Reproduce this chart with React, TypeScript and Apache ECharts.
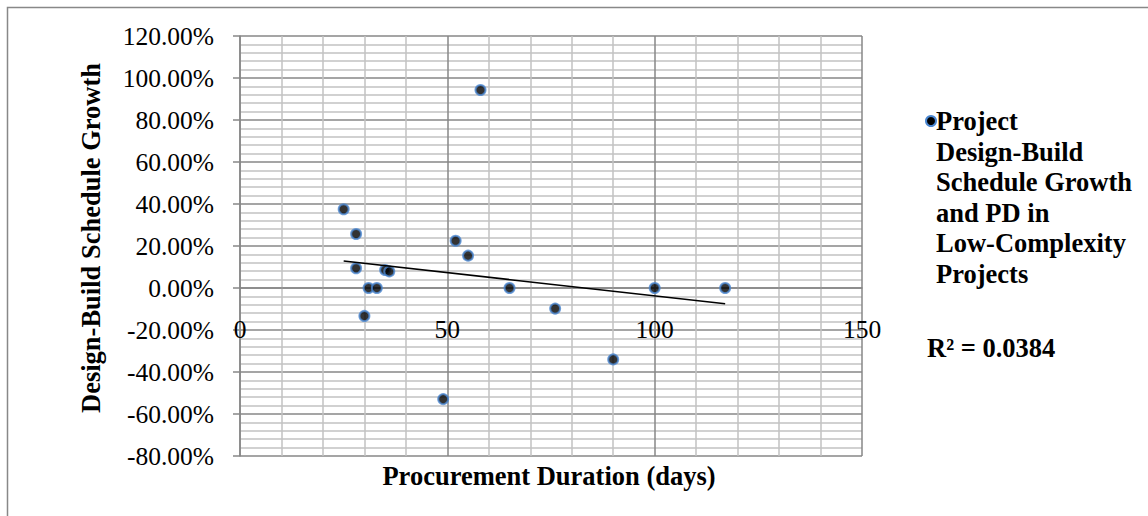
import React, { useEffect, useRef } from "react";
import * as echarts from "echarts";

// Procurement duration (days) per project
const procurementDays = [25, 28, 28, 30, 31, 33, 35, 36, 49, 52, 55, 58, 65, 76, 90, 100, 117];
// Design-build schedule growth (%) per project
const scheduleGrowth = [37.5, 25.7, 9.4, -13.3, 0, 0, 8.6, 7.9, -52.9, 22.5, 15.4, 94.3, 0, -9.8, -34, 0, 0];

const seriesName = "Project Design-Build Schedule Growth and PD in Low-Complexity Projects";
const legendLines = ["Project", "Design-Build", "Schedule Growth", "and PD in", "Low-Complexity", "Projects"];
const rSquaredLabel = "R² = 0.0384";
const xTitle = "Procurement Duration (days)";
const yTitle = "Design-Build Schedule Growth";

const FONT = "'Liberation Serif', 'Times New Roman', serif";

function linearFit(xs: number[], ys: number[]) {
  const n = xs.length;
  const mx = xs.reduce((a, b) => a + b, 0) / n;
  const my = ys.reduce((a, b) => a + b, 0) / n;
  let sxy = 0;
  let sxx = 0;
  for (let i = 0; i < n; i++) {
    sxy += (xs[i] - mx) * (ys[i] - my);
    sxx += (xs[i] - mx) * (xs[i] - mx);
  }
  const slope = sxy / sxx;
  return { slope, intercept: my - slope * mx };
}

export default function App() {
  const ref = useRef<HTMLDivElement>(null);

  useEffect(() => {
    document.body.style.margin = "0";
    if (!ref.current) return;
    const chart = echarts.init(ref.current, undefined, { renderer: "svg" });

    const points = procurementDays.map((x, i) => [x, scheduleGrowth[i]]);
    const { slope, intercept } = linearFit(procurementDays, scheduleGrowth);
    const xMin = Math.min(...procurementDays);
    const xMax = Math.max(...procurementDays);
    const trend = [
      [xMin, intercept + slope * xMin],
      [xMax, intercept + slope * xMax],
    ];

    const majorLine = { color: "#878787", width: 1.5 };
    const minorLine = { color: "#c2c2c2", width: 1.5 };

    chart.setOption({
      animation: false,
      backgroundColor: "#ffffff",
      grid: { left: 240, right: 286, top: 36, bottom: 60, containLabel: false },
      xAxis: [
        {
          type: "value",
          min: 0,
          max: 150,
          interval: 50,
          axisLine: { show: false, onZero: false },
          axisTick: { show: false },
          axisLabel: { show: false },
          splitLine: { show: true, lineStyle: majorLine },
          minorTick: { show: false, splitNumber: 5 },
          minorSplitLine: { show: true, lineStyle: minorLine },
        },
        {
          type: "value",
          position: "bottom",
          offset: -168,
          min: 0,
          max: 150,
          interval: 50,
          axisLine: { show: true, onZero: false, lineStyle: majorLine },
          axisTick: { show: false },
          axisLabel: {
            margin: 28,
            fontFamily: FONT,
            fontSize: 25.5,
            color: "#000",
            showMinLabel: true,
            showMaxLabel: true,
          },
          splitLine: { show: false },
        },
      ],
      yAxis: {
        type: "value",
        min: -80,
        max: 120,
        interval: 20,
        axisLine: { show: true, onZero: false, lineStyle: majorLine },
        axisTick: { show: true, length: 7, lineStyle: majorLine },
        axisLabel: {
          margin: 26,
          fontFamily: FONT,
          fontSize: 25.5,
          color: "#000",
          formatter: (v: number) => `${v.toFixed(2)}%`,
        },
        splitLine: { show: true, lineStyle: majorLine },
        minorTick: { show: false, splitNumber: 5 },
        minorSplitLine: { show: true, lineStyle: minorLine },
      },
      series: [
        {
          name: seriesName,
          type: "scatter",
          data: points,
          symbol: "circle",
          symbolSize: 10,
          itemStyle: { color: "#000", borderColor: "#4a86d0", borderWidth: 2 },
          z: 3,
        },
        {
          name: "Linear trend",
          type: "line",
          data: trend,
          showSymbol: false,
          symbol: "none",
          lineStyle: { color: "#000", width: 1.6 },
          z: 4,
        },
      ],
      graphic: [
        {
          type: "rect",
          shape: { x: 7.5, y: 7.5, width: 1160, height: 530 },
          style: { fill: "none", stroke: "#888", lineWidth: 1.5 },
          silent: true,
          z: 0,
        },
        {
          type: "text",
          x: 91,
          y: 238,
          rotation: Math.PI / 2,
          style: {
            text: yTitle,
            font: `bold 26.5px ${FONT}`,
            fill: "#000",
            align: "center",
            verticalAlign: "middle",
          },
        },
        {
          type: "text",
          x: 549,
          y: 476,
          style: {
            text: xTitle,
            font: `bold 26.5px ${FONT}`,
            fill: "#000",
            align: "center",
            verticalAlign: "middle",
          },
        },
        {
          type: "circle",
          shape: { cx: 931, cy: 121, r: 5 },
          style: { fill: "#000", stroke: "#4a86d0", lineWidth: 2 },
        },
        {
          type: "text",
          x: 936,
          y: 106,
          style: {
            text: legendLines.join("\n"),
            font: `bold 26.5px ${FONT}`,
            lineHeight: 30.5,
            fill: "#000",
            align: "left",
            verticalAlign: "top",
          },
        },
        {
          type: "text",
          x: 927,
          y: 348,
          style: {
            text: rSquaredLabel,
            font: `bold 26.5px ${FONT}`,
            fill: "#000",
            align: "left",
            verticalAlign: "middle",
          },
        },
      ],
    });

    return () => chart.dispose();
  }, []);

  return <div ref={ref} style={{ width: 1148, height: 516 }} />;
}
